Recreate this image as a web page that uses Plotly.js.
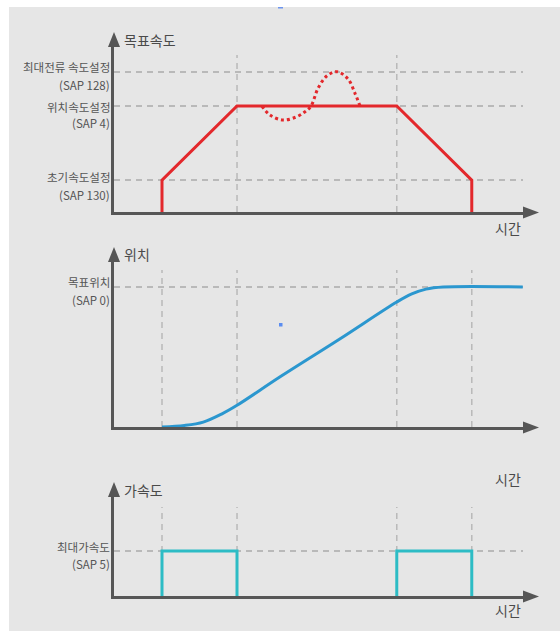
<!DOCTYPE html>
<html><head><meta charset="utf-8">
<script src="https://cdn.plot.ly/plotly-3.0.1.min.js"></script>
<style>html,body{margin:0;padding:0;background:#fff}#chart{width:560px;height:631px}</style>
</head><body><div id="chart"></div>
<script>
// ---- data ----
const phaseTimes = [0, 1, 3.13, 4.13];          // start, accel end, decel start, stop
const endTime = 4.81;

const velLevels = [1.32, 1.0, 0.3];
const velLabels = ['최대전류 속도설정', '위치속도설정', '초기속도설정'];
const velSap = ['(SAP 128)', '(SAP 4)', '(SAP 130)'];
const velT = [0, 0, 1, 3.13, 4.13, 4.13];
const velV = [0, 0.3, 1.0, 1.0, 0.3, 0];
const overT = [1.333, 1.44, 1.613, 1.787, 1.907, 1.987, 2.08, 2.196, 2.333, 2.48, 2.573, 2.64];
const overV = [1.0, 0.915, 0.868, 0.896, 0.946, 1.0, 1.167, 1.283, 1.324, 1.255, 1.12, 1.0];

const posLevels = [1.0];
const posLabels = ['목표위치'];
const posSap = ['(SAP 0)'];
const posT = [0, 0.3, 0.55, 0.8, 1.0, 1.57, 2.37, 3.13, 3.33, 3.52, 3.75, 4.81];
const posP = [0, 0.011, 0.035, 0.094, 0.155, 0.357, 0.629, 0.893, 0.951, 0.985, 1.0, 1.0];

const accLevels = [1.0];
const accLabels = ['최대가속도'];
const accSap = ['(SAP 5)'];
const accT = [0, 0, 1, 1, null, 3.13, 3.13, 4.13, 4.13];
const accA = [0, 1, 1, 0, null, 0, 1, 1, 0];

const axisTitles = ['목표속도', '위치', '가속도'];
const timeLabel = '시간';

// ---- layout helpers (pixels -> paper) ----
const W = 560, H = 631;
const px = x => x / W;
const py = y => 1 - y / H;
const FONT = '"Noto Sans CJK KR", "Noto Sans", sans-serif';
const AX = '#565656', GRID = '#b9b9b9', TXT = '#555';
const RED = '#e3282c', BLUE = '#2b97cf', CYAN = '#2dbcc5';

const panels = [
  {bottom: 212, top: 47, tip: 32, vtop: 55, yr: 1.557, titleY: 40, timeY: 228, vlines: [1, 2],
   levels: velLevels, labels: velLabels, saps: velSap, nameShift: [5, -1, 3], sapShift: [-13, -17, -15]},
  {bottom: 427, top: 262, tip: 247, vtop: 270, yr: 1.179, titleY: 254, timeY: 479, vlines: [0, 1, 2, 3],
   levels: posLevels, labels: posLabels, saps: posSap, nameShift: [5], sapShift: [-13]},
  {bottom: 596, top: 497, tip: 482, vtop: 507, yr: 2.2, titleY: 490, timeY: 610, vlines: [0, 1, 2, 3],
   levels: accLevels, labels: accLabels, saps: accSap, nameShift: [4], sapShift: [-13]}
];

const xL = 114, xR = 523, xTip = 539;
const xRange = [-0.64, 4.813];

const traces = [
  {x: velT, y: velV, xaxis: 'x', yaxis: 'y', mode: 'lines', line: {color: RED, width: 3}, hoverinfo: 'skip'},
  {x: overT, y: overV, xaxis: 'x', yaxis: 'y', mode: 'lines', line: {color: RED, width: 3, dash: 'dot', shape: 'spline'}, hoverinfo: 'skip'},
  {x: posT, y: posP, xaxis: 'x2', yaxis: 'y2', mode: 'lines', line: {color: BLUE, width: 3, shape: 'spline', smoothing: 1}, hoverinfo: 'skip'},
  {x: accT, y: accA, xaxis: 'x3', yaxis: 'y3', mode: 'lines', connectgaps: false, line: {color: CYAN, width: 3}, hoverinfo: 'skip'}
];

const layout = {
  width: W, height: H,
  margin: {l: 0, r: 0, t: 0, b: 0},
  paper_bgcolor: '#ffffff', plot_bgcolor: 'rgba(0,0,0,0)',
  showlegend: false,
  font: {family: FONT, color: TXT},
  shapes: [
    {type: 'rect', xref: 'paper', yref: 'paper', x0: px(9), x1: 1, y0: 0, y1: py(7),
     fillcolor: '#e6e6e6', line: {width: 0}, layer: 'below'},
    {type: 'rect', xref: 'paper', yref: 'paper', x0: px(278), x1: px(283), y0: py(8.5), y1: py(7),
     fillcolor: '#6d95ee', line: {width: 0}},
    {type: 'rect', xref: 'paper', yref: 'paper', x0: px(279), x1: px(282.5), y0: py(326.5), y1: py(323),
     fillcolor: '#5b8df0', line: {width: 0}}
  ],
  annotations: []
};

panels.forEach((p, i) => {
  const n = i === 0 ? '' : String(i + 1);
  const xa = 'xaxis' + n, ya = 'yaxis' + n;
  const xr = 'x' + n, yr = 'y' + n;
  layout[xa] = {domain: [px(xL), px(xR)], range: xRange, anchor: yr, showgrid: false, zeroline: false,
    showticklabels: false, ticks: '', showline: true, linecolor: AX, linewidth: 3, fixedrange: true};
  if (i > 0) layout[xa].matches = 'x';
  layout[ya] = {domain: [py(p.bottom), py(p.top)], range: [0, p.yr], anchor: xr, zeroline: false,
    showticklabels: false, ticks: '', tickvals: p.levels, showgrid: true, gridcolor: GRID, gridwidth: 1.5,
    griddash: '6px,5px', showline: true, linecolor: AX, linewidth: 3, fixedrange: true};

  // vertical dashed reference lines at phase times
  const frac = (p.bottom - p.vtop) / (p.bottom - p.top);
  p.vlines.forEach(k => {
    layout.shapes.push({type: 'line', xref: xr, yref: yr + ' domain', x0: phaseTimes[k], x1: phaseTimes[k],
      y0: 0, y1: frac, line: {color: GRID, width: 1.5, dash: '6px,5px'}, layer: 'below'});
  });
  // arrowheads
  layout.shapes.push({type: 'path', xref: 'paper', yref: 'paper', fillcolor: AX, line: {width: 0},
    path: `M ${px(xL)},${py(p.tip)} L ${px(xL - 6)},${py(p.tip + 15)} L ${px(xL + 6)},${py(p.tip + 15)} Z`});
  layout.shapes.push({type: 'path', xref: 'paper', yref: 'paper', fillcolor: AX, line: {width: 0},
    path: `M ${px(xTip)},${py(p.bottom + 0.5)} L ${px(xR)},${py(p.bottom - 5.5)} L ${px(xR)},${py(p.bottom + 6.5)} Z`});

  // axis titles
  layout.annotations.push({xref: 'paper', yref: 'paper', x: px(122), y: py(p.titleY), xanchor: 'left', yanchor: 'middle',
    text: axisTitles[i], showarrow: false, font: {size: 14, color: '#4a4a4a', family: FONT}});
  layout.annotations.push({xref: 'paper', yref: 'paper', x: px(508), y: py(p.timeY), xanchor: 'center', yanchor: 'middle',
    text: timeLabel, showarrow: false, font: {size: 14, color: '#4a4a4a', family: FONT}});

  // level labels
  p.levels.forEach((lv, j) => {
    layout.annotations.push({xref: 'paper', yref: yr, x: px(112), y: lv, xanchor: 'right', yanchor: 'middle',
      yshift: p.nameShift[j], text: p.labels[j], showarrow: false, font: {size: 11.5, color: TXT, family: FONT}});
    layout.annotations.push({xref: 'paper', yref: yr, x: px(112), y: lv, xanchor: 'right', yanchor: 'middle',
      yshift: p.sapShift[j], text: p.saps[j], showarrow: false, font: {size: 11.5, color: TXT, family: FONT}});
  });
});

Plotly.newPlot('chart', traces, layout, {staticPlot: true, displayModeBar: false});
</script>
</body></html>
